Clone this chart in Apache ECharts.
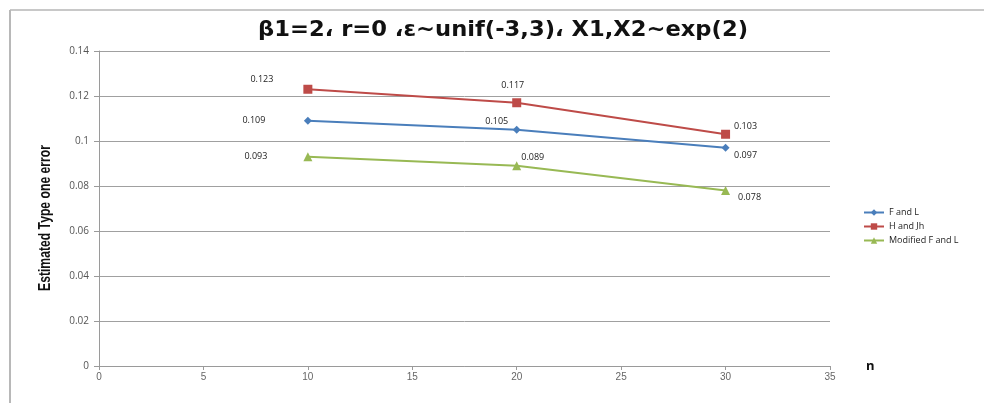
<!DOCTYPE html>
<html><head><meta charset="utf-8">
<script src="https://cdn.jsdelivr.net/npm/echarts@6/dist/echarts.min.js"></script>
<style>html,body{margin:0;padding:0;background:#fff}#c{width:984px;height:403px}</style>
</head><body><div id="c"></div>
<script>
var nValues = [10, 20, 30];
var fAndL = [0.109, 0.105, 0.097];
var hAndJh = [0.123, 0.117, 0.103];
var modifiedFL = [0.093, 0.089, 0.078];
var seriesNames = ['F and L', 'H and Jh', 'Modified F and L'];
var yTicks = [0, 0.02, 0.04, 0.06, 0.08, 0.1, 0.12, 0.14];
var xTicks = [0, 5, 10, 15, 20, 25, 30, 35];
var yAxisTitle = 'Estimated Type one error';
var chartTitle = 'β1=2، r=0 ،ε~unif(-3,3)، X1,X2~exp(2)';

var labelOffsets = [
  [[-54, 0], [-20, -8], [20, 8]],
  [[-46, -10], [-4, -17], [20, -8]],
  [[-52, 0], [16, -8], [24, 7]]
];
function pts(vals, si) {
  return vals.map(function (v, i) {
    return { value: [nValues[i], v], label: { offset: labelOffsets[si][i] } };
  });
}
var colors = ['#4A7EBB', '#BE4B48', '#98B954'];
var symbols = ['diamond', 'rect', 'triangle'];
var sizes = [8, 9, 9];
var all = [fAndL, hAndJh, modifiedFL];

var cv = document.createElement('canvas').getContext('2d');
cv.font = 'bold 17px "Liberation Sans"';
var sx = 146 / cv.measureText(yAxisTitle).width;
cv.font = 'bold 21px "DejaVu Sans"';
var tsx = 490 / cv.measureText(chartTitle).width;

var chart = echarts.init(document.getElementById('c'));
chart.setOption({
  animation: false,
  legend: {
    orient: 'vertical', left: 858, top: 203, itemGap: 5,
    itemWidth: 20, itemHeight: 8,
    textStyle: { fontFamily: 'Open Sans', fontSize: 9, color: '#222' },
    data: seriesNames
  },
  grid: { left: 99, right: 154, top: 51, bottom: 37 },
  xAxis: {
    type: 'value', min: 0, max: 35, interval: 5,
    name: 'n', nameLocation: 'end', nameGap: 36,
    nameTextStyle: { fontFamily: 'Open Sans', fontWeight: 'bold', fontSize: 13, color: '#111', verticalAlign: 'middle' },
    axisLine: { lineStyle: { color: '#9a9a9a', width: 1 } },
    axisTick: { show: true, length: 4, inside: false, lineStyle: { color: '#9a9a9a' } },
    axisLabel: { color: '#666', fontSize: 10, fontFamily: 'Liberation Sans', margin: 6 },
    splitLine: { show: false }
  },
  yAxis: {
    type: 'value', min: 0, max: 0.14, interval: 0.02,
    axisLine: { show: true, lineStyle: { color: '#9a9a9a', width: 1 } },
    axisTick: { show: true, length: 5, lineStyle: { color: '#9a9a9a' } },
    axisLabel: { color: '#555', fontSize: 10, fontFamily: 'Open Sans', margin: 10,
      formatter: function (v) { return String(+v.toFixed(2)); } },
    splitLine: { show: true, lineStyle: { color: '#a0a0a0', width: 1 } }
  },
  series: all.map(function (vals, si) {
    return {
      name: seriesNames[si], type: 'line', data: pts(vals, si),
      symbol: symbols[si], symbolSize: sizes[si],
      itemStyle: { color: colors[si] },
      lineStyle: { color: colors[si], width: 2 },
      label: { show: true, position: 'inside', fontSize: 9, fontFamily: 'Open Sans', color: '#222',
        formatter: function (p) { return p.value[1].toFixed(3); } }
    };
  }),
  graphic: [
    { type: 'line', shape: { x1: 10, y1: 10, x2: 984, y2: 10 }, style: { stroke: '#c8c8c8', lineWidth: 2 }, silent: true },
    { type: 'line', shape: { x1: 10, y1: 10, x2: 10, y2: 403 }, style: { stroke: '#b8b8b8', lineWidth: 2 }, silent: true },
    { type: 'text', x: 503, y: 31, scaleX: tsx, scaleY: 1,
      style: { text: chartTitle, font: 'bold 21px "DejaVu Sans"', fill: '#111', textAlign: 'center', textVerticalAlign: 'middle' } },
    { type: 'text', x: 45, y: 218, rotation: Math.PI / 2, scaleX: sx, scaleY: 1,
      style: { text: yAxisTitle, font: 'bold 17px "Liberation Sans"', fill: '#111', textAlign: 'center', textVerticalAlign: 'middle' } }
  ]
});
</script></body></html>
